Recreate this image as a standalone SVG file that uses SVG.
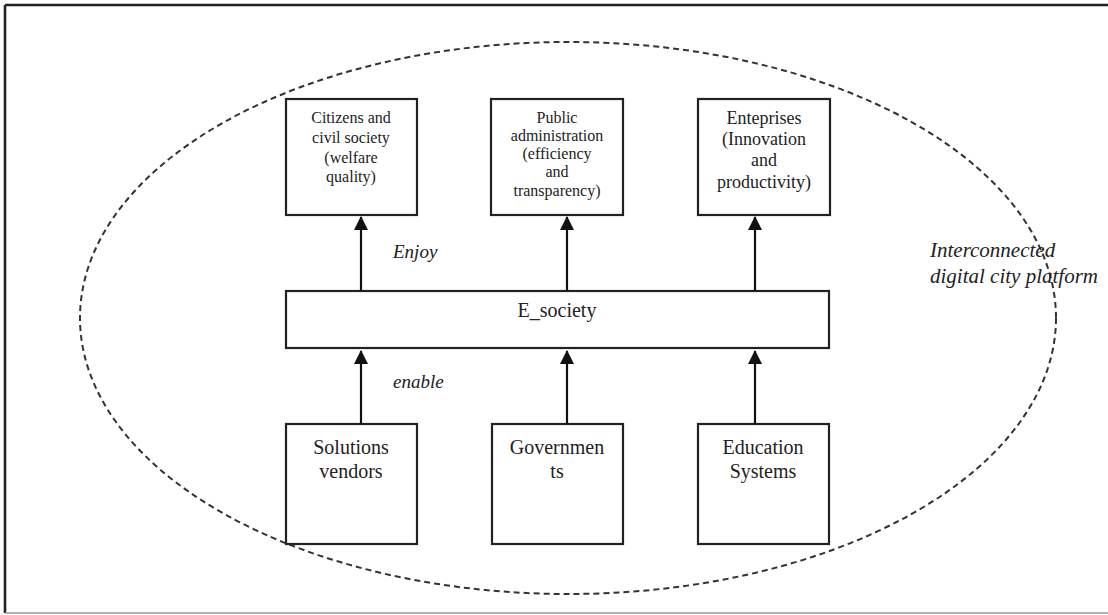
<svg xmlns="http://www.w3.org/2000/svg" width="1108" height="615" viewBox="0 0 1108 615">
  <style>
    .box { fill: #ffffff; stroke: #222222; stroke-width: 2.2; }
    .label { font-family: "Liberation Serif", "Times New Roman", serif; fill: #222222; text-anchor: middle; }
    .s16 { font-size: 16px; }
    .s18 { font-size: 18px; }
    .s20 { font-size: 20px; }
    .note { font-family: "Liberation Serif", "Times New Roman", serif; font-style: italic; fill: #222222; font-size: 19px; }
    .big { font-size: 21px; }
    .link { stroke: #111111; stroke-width: 2.2; fill: none; marker-end: url(#head); }
    .platform { fill: none; stroke: #333333; stroke-width: 2; stroke-dasharray: 6 4; }
  </style>
  <defs>
    <marker id="head" markerUnits="userSpaceOnUse" markerWidth="14" markerHeight="15" refX="13" refY="7" orient="auto">
      <path d="M0,0 L14,7 L0,14 Z" fill="#111111"/>
    </marker>
  </defs>

  <!-- page background and frame -->
  <rect x="0" y="0" width="1108" height="615" fill="#ffffff"/>
  <line x1="5" y1="5" x2="1108" y2="5" stroke="#222222" stroke-width="2.6"/>
  <line x1="5" y1="5" x2="5" y2="613" stroke="#222222" stroke-width="2.6"/>
  <line x1="5" y1="613" x2="1108" y2="613" stroke="#9a9a9a" stroke-width="1.5"/>

  <!-- dashed boundary of the platform -->
  <g id="platform">
    <ellipse class="platform" cx="568" cy="318" rx="488" ry="276"/>
    <text class="note big" x="930" y="257">Interconnected</text>
    <text class="note big" x="930" y="283">digital city platform</text>
  </g>

  <!-- beneficiaries -->
  <g id="citizens">
    <rect class="box" x="286" y="99" width="131" height="116"/>
    <text class="label s16" x="351" y="123">Citizens and</text>
    <text class="label s16" x="351" y="143">civil society</text>
    <text class="label s16" x="351" y="163">(welfare</text>
    <text class="label s16" x="351" y="182">quality)</text>
  </g>
  <g id="public-administration">
    <rect class="box" x="491" y="99" width="132" height="116"/>
    <text class="label s16" x="557" y="123">Public</text>
    <text class="label s16" x="557" y="141">administration</text>
    <text class="label s16" x="557" y="159">(efficiency</text>
    <text class="label s16" x="557" y="177">and</text>
    <text class="label s16" x="557" y="196">transparency)</text>
  </g>
  <g id="enterprises">
    <rect class="box" x="698" y="99" width="132" height="116"/>
    <text class="label s18" x="764" y="124">Enteprises</text>
    <text class="label s18" x="764" y="145">(Innovation</text>
    <text class="label s18" x="764" y="166">and</text>
    <text class="label s18" x="764" y="188">productivity)</text>
  </g>

  <!-- central layer -->
  <g id="e-society">
    <rect class="box" x="286" y="291" width="543" height="57"/>
    <text class="label s20" x="557" y="317">E_society</text>
  </g>

  <!-- enablers -->
  <g id="solutions-vendors">
    <rect class="box" x="286" y="424" width="131" height="120"/>
    <text class="label s20" x="351" y="454">Solutions</text>
    <text class="label s20" x="351" y="478">vendors</text>
  </g>
  <g id="governments">
    <rect class="box" x="492" y="424" width="131" height="120"/>
    <text class="label s20" x="557" y="454">Governmen</text>
    <text class="label s20" x="557" y="478">ts</text>
  </g>
  <g id="education-systems">
    <rect class="box" x="698" y="424" width="131" height="120"/>
    <text class="label s20" x="763" y="454">Education</text>
    <text class="label s20" x="763" y="478">Systems</text>
  </g>

  <!-- connectors -->
  <g id="connectors">
    <line class="link" x1="361" y1="291" x2="361" y2="217"/>
    <line class="link" x1="567" y1="291" x2="567" y2="217"/>
    <line class="link" x1="755" y1="291" x2="755" y2="217"/>
    <line class="link" x1="361" y1="424" x2="361" y2="351"/>
    <line class="link" x1="567" y1="424" x2="567" y2="351"/>
    <line class="link" x1="755" y1="424" x2="755" y2="351"/>
    <text class="note" x="393" y="258">Enjoy</text>
    <text class="note" x="393" y="388">enable</text>
  </g>
</svg>
